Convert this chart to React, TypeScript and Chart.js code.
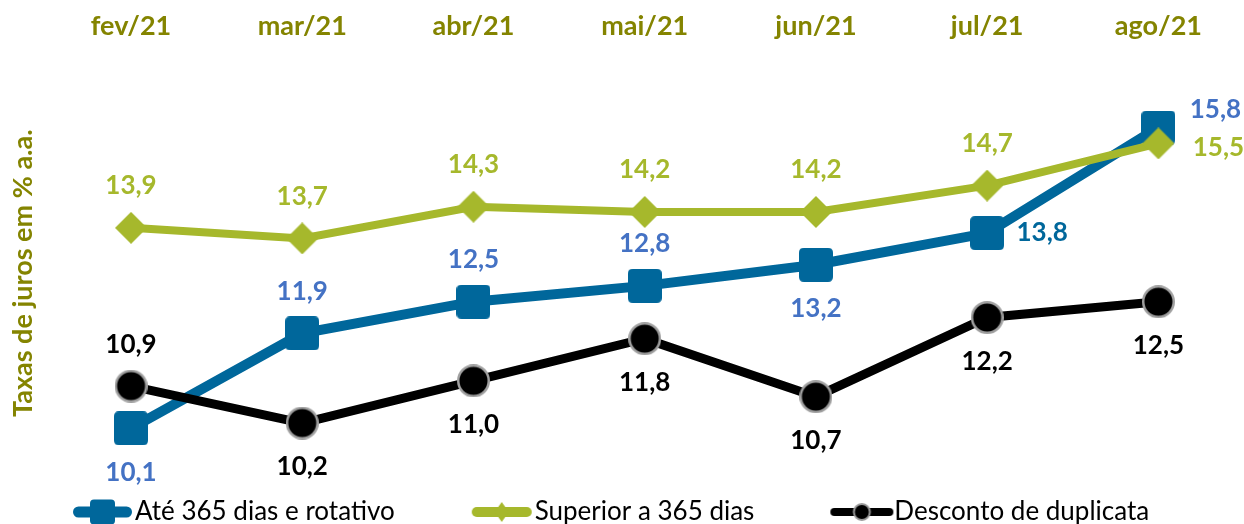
import React, { useEffect, useRef } from 'react';
import { Chart, registerables } from 'chart.js';

Chart.register(...registerables);

const categories = ['fev/21', 'mar/21', 'abr/21', 'mai/21', 'jun/21', 'jul/21', 'ago/21'];
const ate365 = [10.1, 11.9, 12.5, 12.8, 13.2, 13.8, 15.8];
const superior365 = [13.9, 13.7, 14.3, 14.2, 14.2, 14.7, 15.5];
const desconto = [10.9, 10.2, 11.0, 11.8, 10.7, 12.2, 12.5];
const seriesNames = ['Até 365 dias e rotativo', 'Superior a 365 dias', 'Desconto de duplicata'];
const yTitle = 'Taxas de juros em % a.a.';

// label placement (style only)
const ateLabelPlace = ['below', 'above', 'above', 'above', 'below', 'right', 'upperRight'];
const superiorLabelPlace = ['above', 'above', 'above', 'above', 'above', 'above', 'lowerRight'];
const descontoLabelPlace = ['above', 'below', 'below', 'below', 'below', 'below', 'below'];

const BLUE = '#00679B';
const BLUE_LABEL = '#4472C4';
const GREEN = '#A6B82C';
const OLIVE = '#848400';
const BLACK = '#000000';
const FONT = 'Lato';

const ateLabelColors = [BLUE_LABEL, BLUE_LABEL, BLUE_LABEL, BLUE_LABEL, BLUE_LABEL, BLUE, BLUE_LABEL];

const LEGEND_FONT = 26;
const LEGEND_BOX = 117;

function makeCanvas(w: number, h: number) {
  const c = document.createElement('canvas');
  c.width = w;
  c.height = h;
  return c;
}

function roundRect(ctx: CanvasRenderingContext2D, x: number, y: number, w: number, h: number, r: number) {
  ctx.beginPath();
  ctx.moveTo(x + r, y);
  ctx.lineTo(x + w - r, y);
  ctx.quadraticCurveTo(x + w, y, x + w, y + r);
  ctx.lineTo(x + w, y + h - r);
  ctx.quadraticCurveTo(x + w, y + h, x + w - r, y + h);
  ctx.lineTo(x + r, y + h);
  ctx.quadraticCurveTo(x, y + h, x, y + h - r);
  ctx.lineTo(x, y + r);
  ctx.quadraticCurveTo(x, y, x + r, y);
  ctx.closePath();
}

function squareMarker(size: number, r: number, color: string) {
  const c = makeCanvas(size, size);
  const ctx = c.getContext('2d')!;
  ctx.fillStyle = color;
  roundRect(ctx, 0, 0, size, size, r);
  ctx.fill();
  return c;
}

function diamondMarker(size: number, color: string) {
  const c = makeCanvas(size, size);
  const ctx = c.getContext('2d')!;
  ctx.fillStyle = color;
  ctx.beginPath();
  ctx.moveTo(size / 2, 0);
  ctx.lineTo(size, size / 2);
  ctx.lineTo(size / 2, size);
  ctx.lineTo(0, size / 2);
  ctx.closePath();
  ctx.fill();
  return c;
}

function circleMarker(size: number, fill: string, stroke: string, sw: number) {
  const c = makeCanvas(size, size);
  const ctx = c.getContext('2d')!;
  ctx.beginPath();
  ctx.arc(size / 2, size / 2, size / 2 - sw / 2, 0, Math.PI * 2);
  ctx.fillStyle = fill;
  ctx.fill();
  ctx.lineWidth = sw;
  ctx.strokeStyle = stroke;
  ctx.stroke();
  return c;
}

// legend icon: image wider than the box, visible glyph placed at its right end (just before the text)
function legendIcon(kind: string, color: string, lw: number, visW: number, gap: number) {
  const w = LEGEND_BOX + LEGEND_FONT;
  const h = 30;
  const c = makeCanvas(w, h);
  const ctx = c.getContext('2d')!;
  const x1 = w - gap - visW;
  const x2 = w - gap;
  const cy = h / 2;
  const cx = (x1 + x2) / 2;
  ctx.strokeStyle = color;
  ctx.lineWidth = lw;
  ctx.lineCap = 'round';
  ctx.beginPath();
  ctx.moveTo(x1 + lw / 2, cy);
  ctx.lineTo(x2 - lw / 2, cy);
  ctx.stroke();
  if (kind === 'square') {
    ctx.fillStyle = color;
    roundRect(ctx, cx - 12.5, cy - 12.5, 25, 25, 4);
    ctx.fill();
  } else if (kind === 'diamond') {
    ctx.fillStyle = color;
    ctx.beginPath();
    ctx.moveTo(cx, cy - 10);
    ctx.lineTo(cx + 7, cy);
    ctx.lineTo(cx, cy + 10);
    ctx.lineTo(cx - 7, cy);
    ctx.closePath();
    ctx.fill();
  } else {
    ctx.beginPath();
    ctx.arc(cx, cy, 8, 0, Math.PI * 2);
    ctx.fillStyle = '#000';
    ctx.fill();
    ctx.lineWidth = 2;
    ctx.strokeStyle = '#999';
    ctx.stroke();
  }
  return c;
}

const offsets: Record<string, [number, number]> = {
  above: [0, -42],
  below: [0, 44],
  right: [55, 0],
  upperRight: [57, -18],
  lowerRight: [60, 4],
};

const valueLabels = {
  id: 'valueLabels',
  afterDatasetsDraw(chart: any) {
    const ctx = chart.ctx;
    ctx.save();
    ctx.font = `bold 26px ${FONT}`;
    ctx.textAlign = 'center';
    ctx.textBaseline = 'middle';
    chart.data.datasets.forEach((ds: any, di: number) => {
      const meta = chart.getDatasetMeta(di);
      meta.data.forEach((pt: any, i: number) => {
        const v = ds.data[i];
        const [dx, dy] = offsets[ds.labelPlace[i]];
        ctx.fillStyle = ds.labelColors ? ds.labelColors[i] : ds.labelColor;
        ctx.fillText(v.toFixed(1).replace('.', ','), pt.x + dx, pt.y + dy);
      });
    });
    ctx.restore();
  },
};

export default function App() {
  const ref = useRef<HTMLCanvasElement>(null);
  useEffect(() => {
    const canvas = ref.current!;
    const icons = [
      legendIcon('square', BLUE, 11, 59, 3),
      legendIcon('diamond', GREEN, 10, 60, 3),
      legendIcon('circle', BLACK, 8, 63, 1),
    ];
    const chart = new Chart(canvas, {
      type: 'line',
      data: {
        labels: categories,
        datasets: [
          {
            label: seriesNames[0],
            data: ate365,
            borderColor: BLUE,
            backgroundColor: BLUE,
            borderWidth: 10,
            pointStyle: squareMarker(34, 5, BLUE) as any,
            order: 3,
            tension: 0,
            labelPlace: ateLabelPlace,
            labelColors: ateLabelColors,
          } as any,
          {
            label: seriesNames[1],
            data: superior365,
            borderColor: GREEN,
            backgroundColor: GREEN,
            borderWidth: 8,
            pointStyle: diamondMarker(32, GREEN) as any,
            order: 2,
            tension: 0,
            labelPlace: superiorLabelPlace,
            labelColor: GREEN,
          } as any,
          {
            label: seriesNames[2],
            data: desconto,
            borderColor: BLACK,
            backgroundColor: BLACK,
            borderWidth: 9,
            pointStyle: circleMarker(33, '#000', '#A0A0A0', 2.5) as any,
            order: 1,
            tension: 0,
            labelPlace: descontoLabelPlace,
            labelColor: BLACK,
          } as any,
        ],
      },
      options: {
        responsive: false,
        animation: false,
        devicePixelRatio: 1,
        layout: { autoPadding: false, padding: { left: -5, right: 0, top: -5, bottom: -11 } },
        scales: {
          x: {
            type: 'category',
            position: 'top',
            offset: true,
            grid: { display: false, drawTicks: false },
            border: { display: false },
            ticks: {
              color: OLIVE,
              font: { family: FONT, size: 27, weight: 'bold' },
              padding: 15,
              maxRotation: 0,
            },
          },
          y: {
            min: 8.95,
            max: 17.13,
            grid: { display: false, drawTicks: false },
            border: { display: false },
            ticks: { display: false },
            title: {
              display: true,
              text: yTitle,
              color: OLIVE,
              font: { family: FONT, size: 27, weight: 'bold' },
              padding: { top: 12.4, bottom: 5.6 },
            },
          },
        },
        plugins: {
          tooltip: { enabled: false },
          legend: {
            position: 'bottom',
            align: 'start',
            labels: {
              usePointStyle: true,
              pointStyleWidth: LEGEND_BOX,
              boxHeight: LEGEND_FONT,
              padding: 10,
              color: '#000',
              font: { family: FONT, size: LEGEND_FONT },
              generateLabels: (ch: any) =>
                ch.data.datasets.map((ds: any, i: number) => ({
                  text: ds.label,
                  pointStyle: icons[i],
                  fillStyle: ds.borderColor,
                  strokeStyle: ds.borderColor,
                  lineWidth: 0,
                  hidden: false,
                  datasetIndex: i,
                  fontColor: '#000',
                })),
            },
          },
        },
      } as any,
      plugins: [valueLabels],
    });
    return () => chart.destroy();
  }, []);
  return (
    <div style={{ position: 'fixed', left: 0, top: 0, width: 1244, height: 524, background: '#fff' }}>
      <canvas ref={ref} width={1244} height={524} style={{ display: 'block' }} />
    </div>
  );
}
